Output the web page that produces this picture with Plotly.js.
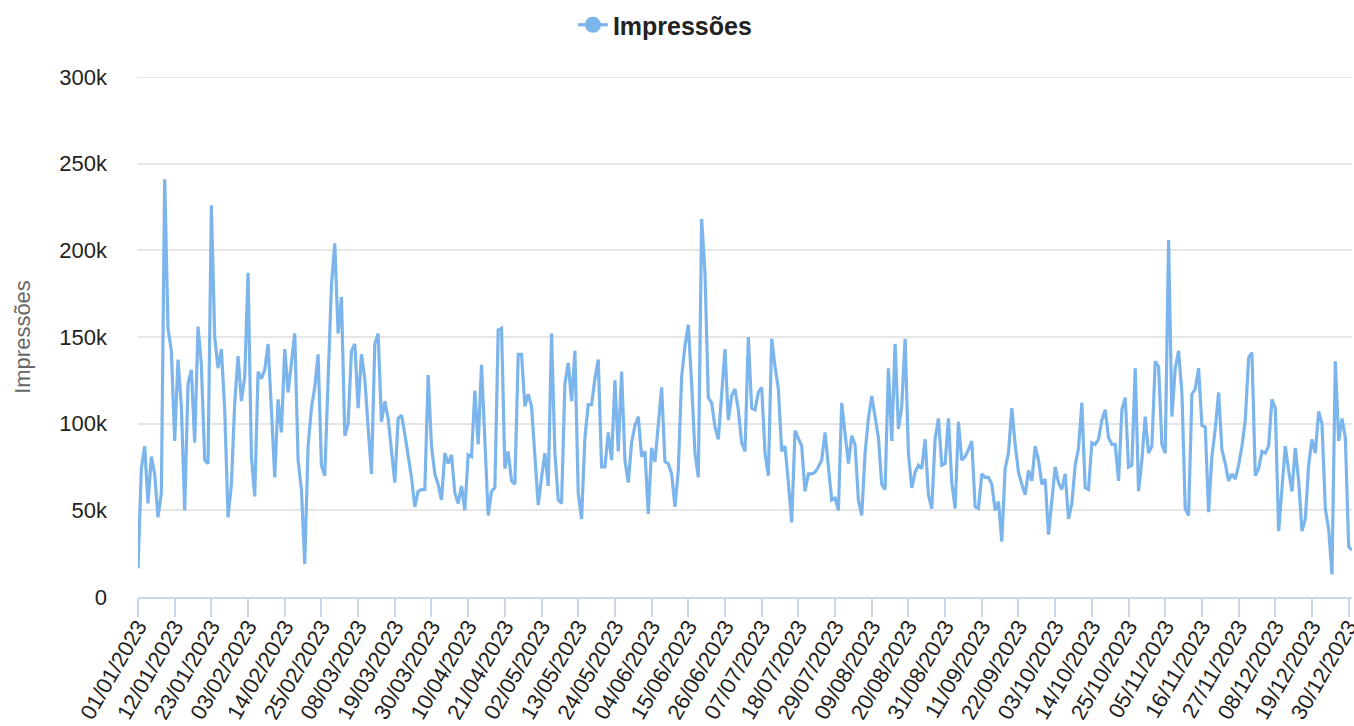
<!DOCTYPE html>
<html>
<head>
<meta charset="utf-8">
<script src="https://cdn.plot.ly/plotly-3.0.1.min.js"></script>
<style>
  html, body { margin: 0; padding: 0; background: #fff; }
  #chart { width: 1354px; height: 726px; }
</style>
</head>
<body>
<div id="chart"></div>
<script>
// Daily impressions, 2023, one array per month
const jan = [16500, 74000, 87000, 54000, 81000, 71000, 46000, 60000, 241000, 155000, 142000, 90000, 137000, 110000, 50000, 123000, 131000, 89000, 156000, 134000, 79000, 77000, 226000, 150000, 132000, 143000, 108000, 46000, 65000, 112000, 139000];
const feb = [113000, 127000, 187000, 81000, 58000, 130000, 126000, 131000, 146000, 108000, 69000, 114000, 95000, 143000, 118000, 135000, 152000, 79000, 62000, 19000, 87000, 109000, 121000, 140000, 76000, 70000, 125000, 180000];
const mar = [204000, 152000, 173000, 93000, 100000, 142000, 146000, 109000, 140000, 126000, 98000, 71000, 146000, 152000, 101000, 113000, 103000, 85000, 66000, 103000, 105000, 94000, 82000, 69000, 52000, 61000, 62000, 62000, 128000, 87000, 71000];
const apr = [65000, 56000, 83000, 77000, 82000, 60000, 54000, 64000, 50000, 82000, 81000, 119000, 88000, 134000, 92000, 47000, 61000, 63000, 154000, 155000, 74000, 84000, 67000, 65000, 140000, 140000, 110000, 117000, 110000, 81000];
const may = [53000, 69000, 83000, 64000, 152000, 83000, 56000, 54000, 123000, 135000, 113000, 142000, 60000, 45000, 92000, 111000, 111000, 126000, 137000, 75000, 75000, 95000, 79000, 125000, 84000, 130000, 79000, 66000, 89000, 99000, 104000];
const jun = [81000, 84000, 48000, 86000, 78000, 98000, 121000, 78000, 77000, 71000, 52000, 73000, 127000, 145000, 157000, 123000, 83000, 69000, 218000, 187000, 115000, 112000, 98000, 91000, 118000, 143000, 102000, 116000, 120000, 108000];
const jul = [89000, 84000, 150000, 109000, 108000, 118000, 121000, 83000, 70000, 149000, 133000, 120000, 84000, 87000, 66000, 43000, 96000, 92000, 87000, 61000, 71000, 71000, 72000, 75000, 79000, 95000, 77000, 56000, 57000, 50000, 112000];
const aug = [95000, 77000, 93000, 88000, 56000, 47000, 83000, 103000, 116000, 104000, 92000, 65000, 62000, 132000, 90000, 146000, 97000, 110000, 149000, 83000, 63000, 72000, 76000, 74000, 91000, 59000, 51000, 91000, 103000, 76000, 77000];
const sep = [103000, 66000, 51000, 101000, 79000, 81000, 85000, 90000, 52000, 51000, 71000, 69000, 69000, 65000, 50000, 55000, 32000, 74000, 83000, 109000, 88000, 72000, 65000, 59000, 73000, 67000, 87000, 79000, 65000, 68000];
const oct = [36000, 56000, 75000, 66000, 62000, 71000, 45000, 54000, 76000, 86000, 112000, 63000, 62000, 89000, 88000, 91000, 102000, 108000, 92000, 88000, 88000, 67000, 108000, 115000, 75000, 76000, 132000, 61000, 79000, 104000, 83000];
const nov = [87000, 136000, 133000, 88000, 83000, 206000, 104000, 132000, 142000, 118000, 51000, 47000, 117000, 120000, 132000, 99000, 98000, 49000, 81000, 97000, 118000, 85000, 77000, 67000, 71000, 68000, 76000, 87000, 102000, 138000];
const dec = [141000, 70000, 74000, 84000, 83000, 87000, 114000, 109000, 38000, 62000, 87000, 73000, 61000, 86000, 67000, 38000, 45000, 76000, 91000, 83000, 107000, 100000, 51000, 39000, 13000, 136000, 90000, 103000, 92000, 29000, 27000];

const seriesName = 'Impressões';
const yTitle = 'Impressões';
const year = 2023;
const tickStep = 11;
const yMax = 300000;

const months = [jan, feb, mar, apr, may, jun, jul, aug, sep, oct, nov, dec];
const dates = [];
const values = [];
months.forEach((arr, m) => {
  arr.forEach((v, i) => {
    const dd = String(i + 1).padStart(2, '0');
    const mm = String(m + 1).padStart(2, '0');
    dates.push(dd + '/' + mm + '/' + year);
    values.push(v);
  });
});
const tickDates = dates.filter((d, i) => i % tickStep === 0);

const font = 'Liberation Sans, Arial, Helvetica, sans-serif';

const traces = [
  {
    x: dates, y: values, type: 'scatter', mode: 'lines', name: seriesName,
    line: { color: '#7cb5ec', width: 3.2 }, showlegend: false,
    hovertemplate: '%{x}<br>' + seriesName + ': %{y}<extra></extra>'
  },
  {
    x: [null], y: [null], type: 'scatter', mode: 'lines+markers', name: seriesName,
    line: { color: '#7cb5ec', width: 3.2 }, marker: { color: '#7cb5ec', size: 16 },
    showlegend: true, hoverinfo: 'skip'
  }
];

const layout = {
  width: 1354, height: 726,
  margin: { l: 138, r: 2, t: 77, b: 129 },
  paper_bgcolor: '#ffffff', plot_bgcolor: '#ffffff',
  font: { family: font, color: '#222222', size: 22 },
  showlegend: true,
  legend: {
    orientation: 'h', x: 0.434, xanchor: 'center', y: 1.1, yanchor: 'middle',
    font: { family: font, size: 25, color: '#222222', weight: 'bold' },
    itemwidth: 30
  },
  xaxis: {
    type: 'category', range: [0, dates.length - 1],
    tickmode: 'array', tickvals: tickDates, ticktext: tickDates,
    tickangle: -60, ticks: 'outside', ticklen: 18, tickwidth: 2, tickcolor: '#ccd6eb',
    ticklabelstandoff: -12,
    showline: true, linecolor: '#ccd6eb', linewidth: 2,
    showgrid: false, zeroline: false,
    tickfont: { family: font, size: 22, color: '#222222' }
  },
  yaxis: {
    range: [0, yMax], dtick: 50000, tick0: 0, tickformat: '~s',
    showgrid: true, gridcolor: '#e6e6e6', gridwidth: 2,
    zeroline: false, showline: false, ticks: '',
    ticklabelstandoff: 30,
    tickfont: { family: font, size: 22, color: '#222222' },
    title: { text: yTitle, font: { family: font, size: 22, color: '#666666' }, standoff: 22 }
  },
  shapes: [
    { type: 'line', xref: 'paper', yref: 'y', x0: 0, x1: 1, y0: yMax, y1: yMax,
      line: { color: '#e6e6e6', width: 2 }, layer: 'below' }
  ]
};

Plotly.newPlot('chart', traces, layout, { displayModeBar: false, responsive: false });
</script>
</body>
</html>
